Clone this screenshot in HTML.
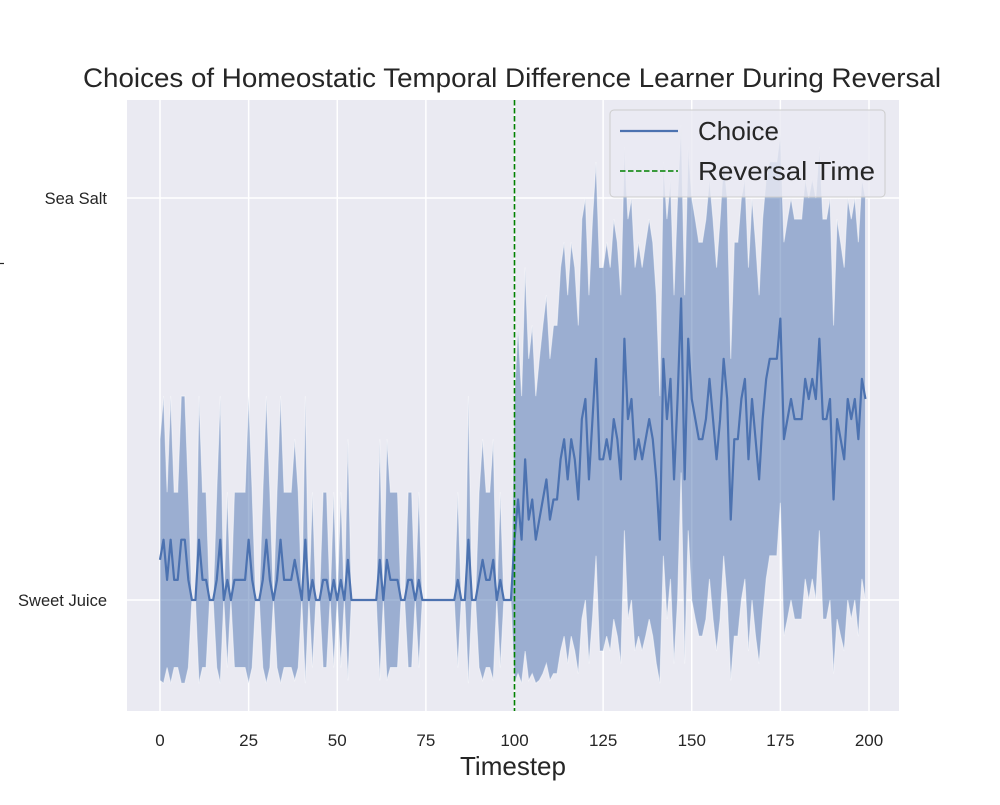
<!DOCTYPE html>
<html><head><meta charset="utf-8"><style>
body{margin:0;background:#fff;}
svg text{font-family:"Liberation Sans","DejaVu Sans",sans-serif;fill:#262626;}
</style></head><body>
<svg id="chart" width="1000" height="800" xmlns="http://www.w3.org/2000/svg">
<defs><clipPath id="clip"><rect x="127" y="100" width="772" height="611"/></clipPath></defs>
<rect x="127" y="100" width="772" height="611" fill="#eaeaf2"/>
<g id="grid"></g>
<g id="band" clip-path="url(#clip)"></g>
<g id="lines" clip-path="url(#clip)"></g>
<g id="ticks"></g>
<text x="512" y="87" font-size="26.5" text-anchor="middle" textLength="858" lengthAdjust="spacingAndGlyphs">Choices of Homeostatic Temporal Difference Learner During Reversal</text>
<text x="513" y="775" font-size="26" text-anchor="middle">Timestep</text>
<line x1="0" y1="263.5" x2="4" y2="263.5" stroke="#262626" stroke-width="1.2"/>
<g>
<rect x="610" y="110" width="275" height="87" rx="4" fill="#eaeaf2" fill-opacity="0.8" stroke="#cccccc"/>
<line x1="620" y1="131" x2="678" y2="131" stroke="#4c72b0" stroke-width="2.2"/>
<text x="698" y="140" font-size="26">Choice</text>
<line x1="620" y1="171" x2="678" y2="171" stroke="#008000" stroke-width="1.6" stroke-dasharray="5.5,2.5"/>
<text x="698" y="180" font-size="26" textLength="177" lengthAdjust="spacingAndGlyphs">Reversal Time</text>
</g>
</svg>
<script>
const choiceMean = [
0.1,0.15,0.05,0.15,0.05,0.05,0.15,0.15,0.05,0,
0,0.15,0.05,0.05,0,0,0.05,0.15,0,0.05,
0,0.05,0.05,0.05,0.05,0.15,0.05,0,0,0.05,
0.15,0.05,0,0.05,0.15,0.05,0.05,0.05,0.1,0.05,
0,0.15,0,0.05,0,0,0.05,0.05,0,0.05,
0,0.05,0,0.1,0,0,0,0,0,0,
0,0,0.1,0,0.1,0.05,0.05,0.05,0,0,
0.05,0.05,0,0.05,0,0,0,0,0,0,
0,0,0,0,0.05,0,0,0.15,0,0,
0.05,0.1,0.05,0.05,0.1,0,0.05,0,0,0,
0.15,0.25,0.15,0.35,0.2,0.25,0.15,0.2,0.25,0.3,
0.2,0.25,0.25,0.35,0.4,0.3,0.4,0.35,0.25,0.45,
0.5,0.3,0.45,0.6,0.35,0.35,0.4,0.35,0.45,0.4,
0.3,0.65,0.45,0.5,0.35,0.4,0.35,0.4,0.45,0.4,
0.3,0.15,0.6,0.45,0.55,0.3,0.5,0.75,0.3,0.65,
0.5,0.45,0.4,0.4,0.45,0.55,0.45,0.35,0.45,0.6,
0.5,0.2,0.4,0.4,0.5,0.55,0.35,0.5,0.4,0.3,
0.45,0.55,0.6,0.6,0.6,0.7,0.4,0.45,0.5,0.45,
0.45,0.45,0.55,0.5,0.55,0.5,0.65,0.45,0.45,0.5,
0.25,0.45,0.4,0.35,0.5,0.45,0.5,0.4,0.55,0.5];
const xTicks = [0,25,50,75,100,125,150,175,200];
const yTickValues = [0,1];
const yTickLabels = ["Sweet Juice","Sea Salt"];
const reversalTime = 100;

const NS="http://www.w3.org/2000/svg";
function X(t){return 160 + (t-0)*(869-160)/200;}
function Y(v){return 600 - v*(600-198);}
function mk(tag,attrs,parent){const e=document.createElementNS(NS,tag);for(const k in attrs)e.setAttribute(k,attrs[k]);parent.appendChild(e);return e;}
const grid=document.getElementById('grid'),ticks=document.getElementById('ticks'),band=document.getElementById('band'),lines=document.getElementById('lines');
xTicks.forEach(t=>{
  const g=mk('line',{x1:X(t),x2:X(t),y1:100,y2:711,stroke:'#fff','stroke-width':1.5},grid);
  
  
  const tx=mk('text',{x:X(t),y:746,'font-size':17,'text-anchor':'middle'},ticks);
  tx.textContent=t;
  
  
});
yTickValues.forEach((v,i)=>{
  const g=mk('line',{x1:127,x2:899,y1:Y(v),y2:Y(v),stroke:'#fff','stroke-width':1.5},grid);
  
  
  const tx=mk('text',{x:107,y:Y(v)+6,'font-size':16.5,'text-anchor':'end'},ticks);
  tx.textContent=yTickLabels[i];
  
  
});
let up=[],lo=[];
choiceMean.forEach((m,t)=>{const sd=Math.sqrt(Math.max(m*(1-m),0));up.push(X(t)+','+Y(m+sd));lo.unshift(X(t)+','+Y(m-sd));});
const poly=mk('polygon',{points:up.concat(lo).join(' '),fill:'#4c72b0','fill-opacity':0.5,stroke:'#ffffff','stroke-opacity':0.5,'stroke-width':1},band);


const pl=mk('polyline',{points:choiceMean.map((m,t)=>X(t)+','+Y(m)).join(' '),fill:'none',stroke:'#4c72b0','stroke-width':2.2,'stroke-linejoin':'round'},lines);


const rv=mk('line',{x1:X(reversalTime),x2:X(reversalTime),y1:100,y2:711,stroke:'#008000','stroke-width':1.6,'stroke-dasharray':'5.5,2.5'},lines);


</script>
</body></html>
